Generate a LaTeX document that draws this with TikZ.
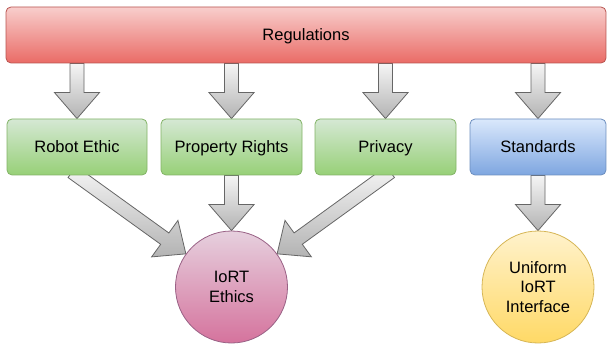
\documentclass[tikz,border=0pt]{standalone}
\usepackage{fontspec}
\setmainfont{Liberation Sans}
\usetikzlibrary{calc}
\pgfdeclarelayer{bg}
\pgfsetlayers{bg,main}
\definecolor{redT}{HTML}{F8CECC}
\definecolor{redB}{HTML}{EA6B66}
\definecolor{redS}{HTML}{B85450}
\definecolor{grnT}{HTML}{D5E8D4}
\definecolor{grnB}{HTML}{97D077}
\definecolor{grnS}{HTML}{82B366}
\definecolor{bluT}{HTML}{DAE8FC}
\definecolor{bluB}{HTML}{7EA6E0}
\definecolor{bluS}{HTML}{6C8EBF}
\definecolor{pnkT}{HTML}{E6D0DE}
\definecolor{pnkB}{HTML}{D5739D}
\definecolor{pnkS}{HTML}{996185}
\definecolor{yelT}{HTML}{FFF2CC}
\definecolor{yelB}{HTML}{FFD966}
\definecolor{yelS}{HTML}{D6B656}
\definecolor{arrT}{HTML}{F5F5F5}
\definecolor{arrB}{HTML}{B3B3B3}
\definecolor{arrS}{HTML}{666666}
\tikzset{
  txt/.style={font=\fontsize{16.5}{19.5}\selectfont, text=black},
  box/.style={txt, rectangle, rounded corners=5pt, line width=0.8pt,
    minimum height=56pt, inner sep=0pt, text height=12pt, text depth=0pt},
  redbox/.style={box, draw=redS, top color=redT, bottom color=redB},
  greenbox/.style={box, draw=grnS, top color=grnT, bottom color=grnB, minimum width=141pt},
  bluebox/.style={box, draw=bluS, top color=bluT, bottom color=bluB, minimum width=136pt},
  roundnode/.style={txt, circle, minimum size=112pt, inner sep=0pt, line width=0.8pt, align=center},
  pinkcircle/.style={roundnode, draw=pnkS, top color=pnkT, bottom color=pnkB},
  yellowcircle/.style={roundnode, draw=yelS, top color=yelT, bottom color=yelB},
  blockarr/.style={draw=arrS, line width=0.8pt, top color=arrT, bottom color=arrB, line join=miter}
}
\newcommand{\blockarrow}[2]{%
  \coordinate (ba-s) at (#1);
  \coordinate (ba-e) at (#2);
  \coordinate (ba-h) at ($(ba-e)!26pt!(ba-s)$);
  \path[blockarr] ($(ba-s)!7pt!-90:(ba-e)$) -- ($(ba-h)!7pt!90:(ba-s)$)
    -- ($(ba-h)!22.5pt!90:(ba-s)$) -- (ba-e) -- ($(ba-h)!22.5pt!-90:(ba-s)$)
    -- ($(ba-h)!7pt!-90:(ba-s)$) -- ($(ba-s)!7pt!90:(ba-e)$) -- cycle;}
\begin{document}
\begin{tikzpicture}[x=1pt,y=-1pt]
\useasboundingbox (0,0) rectangle (607,347);
\node[redbox, minimum width=600pt] (reg) at (306,35) {Regulations};
\node[greenbox, minimum width=140pt] (robot) at (77,147) {Robot Ethic};
\node[greenbox] (prop) at (231.5,147) {Property Rights};
\node[greenbox] (priv) at (385.5,147) {Privacy};
\node[bluebox] (std) at (538,147) {Standards};
\node[pinkcircle] (ethics) at (231.5,287) {IoRT\\Ethics};
\node[yellowcircle] (uni) at (538,287) {Uniform\\IoRT\\Interface};
\begin{pgfonlayer}{bg}
\blockarrow{robot.north |- reg.south}{robot.north}
\blockarrow{prop.north |- reg.south}{prop.north}
\blockarrow{priv.north |- reg.south}{priv.north}
\blockarrow{std.north |- reg.south}{std.north}
\blockarrow{prop.south}{ethics.north}
\blockarrow{std.south}{uni.north}
\blockarrow{$(robot.south)!-6pt!(ethics.center)$}{ethics.144}
\blockarrow{$(priv.south)!-6pt!(ethics.center)$}{ethics.36}
\end{pgfonlayer}
\end{tikzpicture}
\end{document}
